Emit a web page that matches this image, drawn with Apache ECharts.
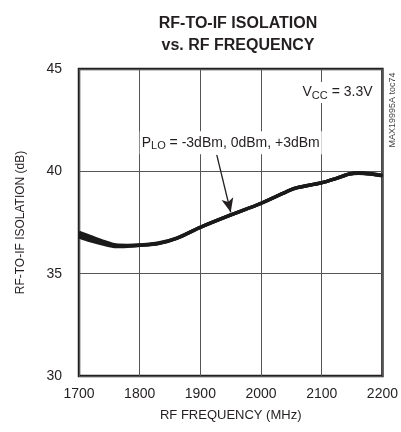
<!DOCTYPE html>
<html><head><meta charset="utf-8">
<script src="https://cdn.jsdelivr.net/npm/echarts@6/dist/echarts.min.js"></script>
<style>html,body{margin:0;padding:0;background:#fff}#c{width:401px;height:432px}</style>
</head><body><div id="c"></div>
<script>
var freq = [1700, 1720, 1740, 1761, 1780, 1800, 1831, 1861, 1900, 1950, 2000, 2048, 2059, 2100, 2124, 2145, 2161, 2180, 2200];
var isoA = [37.02, 36.80, 36.58, 36.40, 36.38, 36.40, 36.50, 36.74, 37.27, 37.87, 38.44, 39.09, 39.20, 39.45, 39.66, 39.87, 39.92, 39.88, 39.80];
var isoB = [36.90, 36.70, 36.50, 36.36, 36.36, 36.39, 36.48, 36.73, 37.27, 37.87, 38.44, 39.09, 39.20, 39.45, 39.66, 39.87, 39.92, 39.88, 39.79];
var isoC = [36.80, 36.60, 36.44, 36.32, 36.34, 36.38, 36.47, 36.72, 37.26, 37.86, 38.43, 39.08, 39.19, 39.44, 39.65, 39.86, 39.91, 39.87, 39.78];
var xTicks = [1700, 1800, 1900, 2000, 2100, 2200];
var yTicks = [30, 35, 40, 45];
var arrowFrom = [1927, 40.8];
var arrowTo = [1950, 38.0];
var vccPos = [2126, 43.85];
var ploPos = [1950, 41.4];

var FONT = '"Liberation Sans", Arial, sans-serif';
function pairs(ys){ return freq.map(function(f,i){return [f, ys[i]];}); }
var chart = echarts.init(document.getElementById('c'), null, {renderer:'canvas'});
var lineStyle = {color:'#1a1a1a', width:3.4};
chart.setOption({
  animation:false,
  backgroundColor:'#fff',
  title:{
    text:'RF-TO-IF ISOLATION\nvs. RF FREQUENCY',
    left:233, top:8, textAlign:'center',
    textStyle:{fontFamily:FONT, fontWeight:'bold', fontSize:16, lineHeight:22, color:'#231f20'}
  },
  grid:{left:79, right:14, top:69, bottom:56, show:true, borderColor:'#231f20', borderWidth:2.5},
  xAxis:{
    type:'value', min:1700, max:2200, interval:100,
    name:'RF FREQUENCY (MHz)', nameLocation:'middle', nameGap:33,
    nameTextStyle:{fontFamily:FONT, fontSize:13, color:'#231f20'},
    axisLine:{show:false}, axisTick:{show:false},
    axisLabel:{fontFamily:FONT, fontSize:14, color:'#231f20', margin:11,
      formatter:function(v){return String(v);}},
    splitLine:{show:true, lineStyle:{color:'#555', width:1}}
  },
  yAxis:{
    type:'value', min:30, max:45, interval:5,
    name:'RF-TO-IF ISOLATION (dB)', nameLocation:'middle', nameGap:52,
    nameTextStyle:{fontFamily:FONT, fontSize:12, color:'#231f20'},
    axisLine:{show:false}, axisTick:{show:false},
    axisLabel:{fontFamily:FONT, fontSize:14, color:'#231f20', margin:17},
    splitLine:{show:true, lineStyle:{color:'#555', width:1}}
  },
  series:[
    {type:'line', data:pairs(isoA), smooth:0.3, showSymbol:false, lineStyle:lineStyle, z:5},
    {type:'line', data:pairs(isoB), smooth:0.3, showSymbol:false, lineStyle:lineStyle, z:5},
    {type:'line', data:pairs(isoC), smooth:0.3, showSymbol:false, lineStyle:lineStyle, z:5,
     markLine:{silent:true, symbol:['none','arrow'], symbolSize:[9,14],
       lineStyle:{color:'#231f20', width:1.3, type:'solid'}, label:{show:false},
       data:[[{coord:arrowFrom},{coord:arrowTo}]]}}
  ]
});
var pV = chart.convertToPixel({gridIndex:0}, vccPos);
var pP = chart.convertToPixel({gridIndex:0}, ploPos);
chart.setOption({graphic:[
  {type:'text', x:pV[0], y:pV[1], z:10, style:{
    text:'{m|V}{s|CC}{m| = 3.3V}', align:'center', verticalAlign:'middle',
    backgroundColor:'#fff', padding:[2,2],
    rich:{m:{fontFamily:FONT, fontSize:14, fill:'#231f20'}, s:{fontFamily:FONT, fontSize:11, fill:'#231f20', padding:[6,0,0,0]}}}},
  {type:'text', x:pP[0], y:pP[1], z:10, style:{
    text:'{m|P}{s|LO}{m| = -3dBm, 0dBm, +3dBm}', align:'center', verticalAlign:'middle',
    backgroundColor:'#fff', padding:[3,2],
    rich:{m:{fontFamily:FONT, fontSize:14, fill:'#231f20'}, s:{fontFamily:FONT, fontSize:11, fill:'#231f20', padding:[6,0,0,0]}}}},
  {type:'text', x:393, y:110, rotation:Math.PI/2, z:10, style:{
    text:'MAX19995A toc74', align:'center', verticalAlign:'middle',
    fontFamily:FONT, fontSize:9, fill:'#444'}}
]});
</script></body></html>
